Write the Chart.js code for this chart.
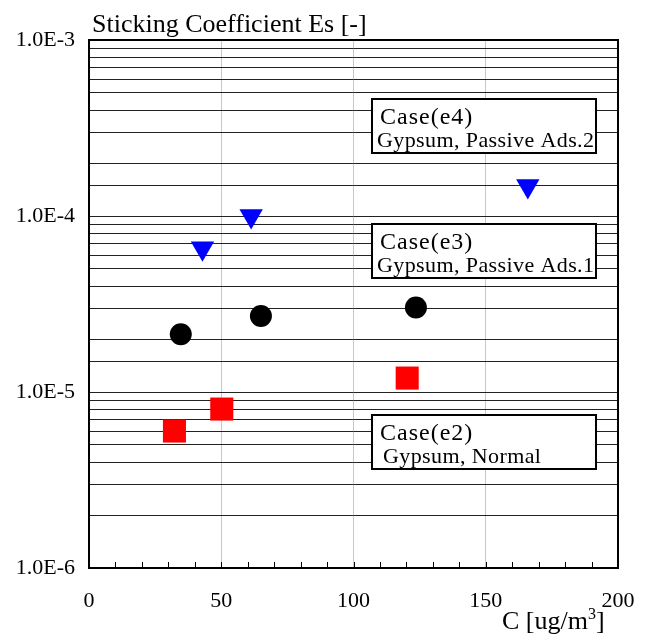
<!DOCTYPE html>
<html>
<head>
<meta charset="utf-8">
<script src="https://cdn.jsdelivr.net/npm/chart.js@4/dist/chart.umd.min.js"></script>
<style>
  html, body { margin: 0; padding: 0; background: #fff; }
  #wrap { width: 646px; height: 637px; position: relative; }
</style>
</head>
<body>
<div id="wrap"><canvas id="chart" width="646" height="637"></canvas></div>
<script>
// Data
const e2X = [32.3, 50.2, 120.3];
const e2Y = [6.0e-6, 8.0e-6, 1.2e-5];
const e3X = [34.7, 65.0, 123.6];
const e3Y = [2.13e-5, 2.70e-5, 3.02e-5];
const e4X = [42.9, 61.3, 165.9];
const e4Y = [6.55e-5, 1.0e-4, 1.48e-4];

const xTickLabels = [0, 50, 100, 150, 200];
const yTickLabels = ['1.0E-6', '1.0E-5', '1.0E-4', '1.0E-3'];

const caseNames = ['Case(e4)', 'Case(e3)', 'Case(e2)'];
const caseNotes = ['Gypsum, Passive Ads.2', 'Gypsum, Passive Ads.1', 'Gypsum, Normal'];

const serif = "'Liberation Serif', 'DejaVu Serif', serif";

function toPoints(xs, ys) {
    return xs.map((x, i) => ({ x: x, y: ys[i] }));
}

// text boxes, frame, inner x ticks, titles
const decorPlugin = {
    id: 'decor',
    afterDraw(chart) {
        const ctx = chart.ctx;
        const area = chart.chartArea;
        const xs = chart.scales.x;

        ctx.save();
        // small x ticks pointing inward
        ctx.strokeStyle = '#000';
        ctx.lineWidth = 1;
        for (let v = 10; v < 200; v += 10) {
            const px = Math.round(xs.getPixelForValue(v)) + 0.5;
            ctx.beginPath();
            ctx.moveTo(px, area.bottom);
            ctx.lineTo(px, area.bottom - 6);
            ctx.stroke();
        }

        // frame
        ctx.lineWidth = 2;
        ctx.strokeRect(area.left, area.top, area.right - area.left, area.bottom - area.top);

        // case boxes
        const boxTops = [99, 224, 415];
        const noteOffsets = [5, 5, 11];
        boxTops.forEach((top, i) => {
            ctx.fillStyle = '#fff';
            ctx.fillRect(372, top, 224, 54);
            ctx.lineWidth = 2;
            ctx.strokeStyle = '#000';
            ctx.strokeRect(372, top, 224, 54);
            ctx.fillStyle = '#000';
            ctx.textAlign = 'left';
            ctx.textBaseline = 'alphabetic';
            ctx.font = '24px ' + serif;
            ctx.letterSpacing = '1px';
            ctx.fillText(caseNames[i], 380, top + 25);
            ctx.font = '22px ' + serif;
            ctx.letterSpacing = '0.4px';
            ctx.fillText(caseNotes[i], 372 + noteOffsets[i], top + 48);
        });
        ctx.letterSpacing = '0px';

        // y title
        ctx.font = '26px ' + serif;
        ctx.fillText('Sticking Coefficient Es [-]', 92, 32);

        // x title with superscript
        let tx = 502;
        const ty = 629;
        ctx.fillText('C [ug/m', tx, ty);
        tx += ctx.measureText('C [ug/m').width;
        ctx.font = '16px ' + serif;
        ctx.fillText('3', tx, ty - 10);
        tx += ctx.measureText('3').width;
        ctx.font = '26px ' + serif;
        ctx.fillText(']', tx, ty);
        ctx.restore();
    }
};

const ctx = document.getElementById('chart').getContext('2d');
new Chart(ctx, {
    type: 'scatter',
    data: {
        datasets: [
            {
                label: 'Case(e2)',
                data: toPoints(e2X, e2Y),
                pointStyle: 'rect',
                pointRadius: 16.3,
                backgroundColor: '#ff0000',
                borderWidth: 0
            },
            {
                label: 'Case(e3)',
                data: toPoints(e3X, e3Y),
                pointStyle: 'circle',
                pointRadius: 11,
                backgroundColor: '#000000',
                borderWidth: 0
            },
            {
                label: 'Case(e4)',
                data: toPoints(e4X, e4Y),
                pointStyle: 'triangle',
                rotation: 180,
                pointRadius: 13.5,
                backgroundColor: '#0000ff',
                borderWidth: 0
            }
        ]
    },
    options: {
        responsive: false,
        animation: false,
        layout: { padding: { left: 0, top: 40, right: 28, bottom: 0 } },
        plugins: {
            legend: { display: false },
            tooltip: { enabled: false }
        },
        scales: {
            x: {
                type: 'linear',
                min: 0,
                max: 200,
                afterFit(scale) {
                    scale.height = 69;
                    scale.paddingLeft = 0;
                    scale.paddingRight = 0;
                },
                border: { display: false },
                grid: {
                    drawTicks: false,
                    tickLength: 0,
                    color: c => (c.tick && c.tick.value % 50 === 0 && c.tick.value > 0 && c.tick.value < 200) ? '#c8c8c8' : 'rgba(0,0,0,0)',
                    lineWidth: 1
                },
                ticks: {
                    stepSize: 10,
                    autoSkip: false,
                    maxRotation: 0,
                    padding: 20,
                    color: '#000',
                    font: { family: serif, size: 22 },
                    callback: v => xTickLabels.includes(v) ? String(v) : ''
                }
            },
            y: {
                type: 'logarithmic',
                min: 1e-6,
                max: 1e-3,
                afterFit(scale) { scale.width = 89; },
                border: { display: false },
                grid: {
                    drawTicks: false,
                    tickLength: 0,
                    color: '#222',
                    lineWidth: 1
                },
                ticks: {
                    autoSkip: false,
                    padding: 14,
                    color: '#000',
                    font: { family: serif, size: 22 },
                    callback: v => {
                        const e = Math.log10(v);
                        if (Math.abs(e - Math.round(e)) < 1e-9) {
                            return yTickLabels[Math.round(e) + 6];
                        }
                        return '';
                    }
                }
            }
        }
    },
    plugins: [decorPlugin]
});
</script>
</body>
</html>
